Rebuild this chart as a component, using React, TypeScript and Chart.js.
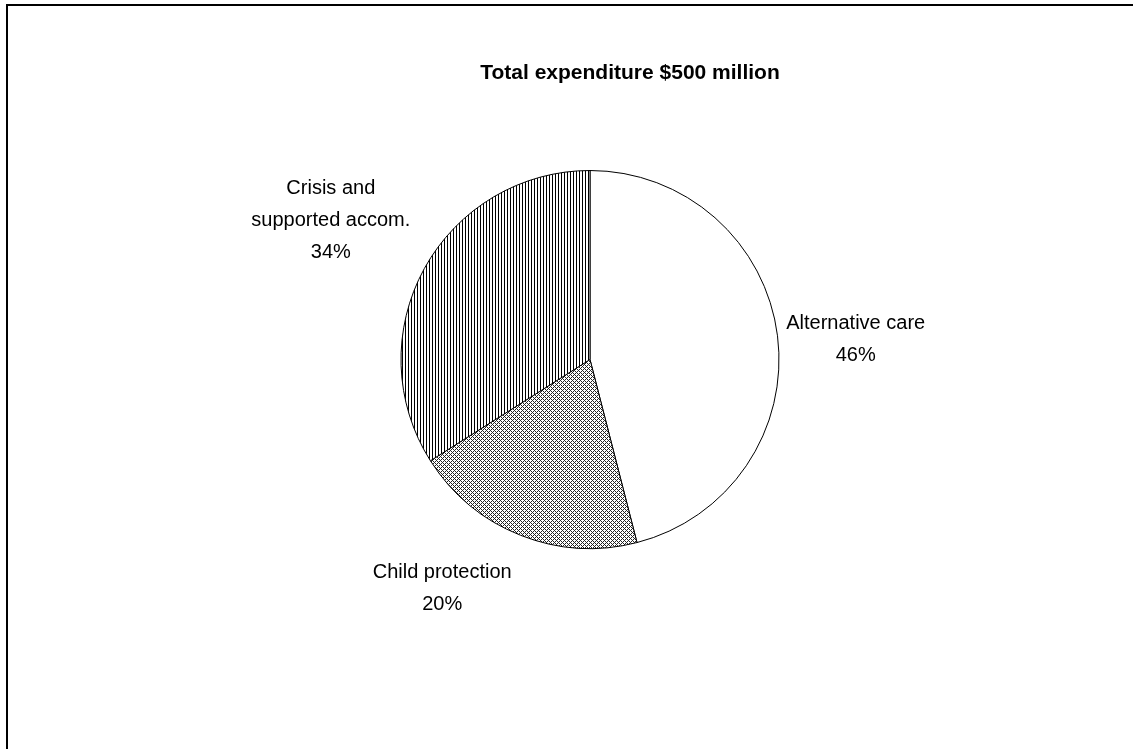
import React, { useEffect, useRef } from 'react';
import { Chart, registerables } from 'chart.js';

Chart.register(...registerables);

const categories = ['Alternative care', 'Child protection', 'Crisis and supported accom.'];
const labelLines = [['Alternative care'], ['Child protection'], ['Crisis and', 'supported accom.']];
const shares = [46, 20, 34];
const titleText = 'Total expenditure $500 million';

function makeStripePattern(): CanvasPattern | string {
  const c = document.createElement('canvas');
  c.width = 3;
  c.height = 1;
  const g = c.getContext('2d');
  if (!g) return '#888';
  g.fillStyle = '#fff';
  g.fillRect(0, 0, 3, 1);
  g.fillStyle = '#000';
  g.fillRect(0, 0, 1, 1);
  return g.createPattern(c, 'repeat') || '#888';
}

function makeDotPattern(): CanvasPattern | string {
  const c = document.createElement('canvas');
  c.width = 4;
  c.height = 4;
  const g = c.getContext('2d');
  if (!g) return '#aaa';
  g.fillStyle = '#fff';
  g.fillRect(0, 0, 4, 4);
  g.fillStyle = '#222';
  const dots = [
    [0, 0], [1, 1], [3, 1], [2, 2], [1, 3], [3, 3],
  ];
  dots.forEach(([x, y]) => g.fillRect(x, y, 1, 1));
  return g.createPattern(c, 'repeat') || '#aaa';
}

const decorPlugin = {
  id: 'decor',
  beforeDraw(chart: any) {
    const ctx = chart.ctx;
    ctx.save();
    ctx.fillStyle = '#fff';
    ctx.fillRect(0, 0, chart.width, chart.height);
    ctx.restore();
  },
  afterDraw(chart: any, _args: any, opts: any) {
    const ctx = chart.ctx;
    ctx.save();
    ctx.strokeStyle = '#000';
    ctx.lineWidth = 2;
    ctx.strokeRect(7, 5, chart.width + 100, chart.height + 100);

    ctx.fillStyle = '#000';
    ctx.textAlign = 'center';
    ctx.textBaseline = 'middle';
    ctx.font = 'bold 21px "Liberation Sans", Arial, sans-serif';
    ctx.fillText(opts.title, opts.titleX, opts.titleY);

    ctx.font = '20px "Liberation Sans", Arial, sans-serif';
    const meta = chart.getDatasetMeta(0);
    meta.data.forEach((arc: any, i: number) => {
      const p = arc.getProps(['x', 'y', 'startAngle', 'endAngle', 'outerRadius'], true);
      const place = opts.placement[i];
      const a = (p.startAngle + p.endAngle) / 2 + (place.shift * Math.PI) / 180;
      const cx = p.x + place.dist * p.outerRadius * Math.cos(a);
      const cy = p.y + place.dist * p.outerRadius * Math.sin(a);
      const lines = [...labelLines[i], shares[i] + '%'];
      const lh = 32;
      lines.forEach((l, k) => {
        ctx.fillText(l, cx, cy + (k - (lines.length - 1) / 2) * lh);
      });
    });
    ctx.restore();
  },
};

export default function App() {
  const ref = useRef<HTMLCanvasElement | null>(null);

  useEffect(() => {
    document.body.style.margin = '0';
    const canvas = ref.current;
    if (!canvas) return;
    const chart = new Chart(canvas, {
      type: 'pie',
      data: {
        labels: categories,
        datasets: [
          {
            data: shares,
            backgroundColor: ['#ffffff', makeDotPattern(), makeStripePattern()] as any,
            borderColor: '#000',
            borderWidth: 1,
            hoverOffset: 0,
          },
        ],
      },
      options: {
        responsive: true,
        maintainAspectRatio: false,
        animation: false,
        layout: { padding: { top: 170, bottom: 200, left: 200, right: 153 } },
        plugins: {
          legend: { display: false },
          tooltip: { enabled: false },
          decor: {
            title: titleText,
            titleX: 630,
            titleY: 73,
            placement: [
              { dist: 1.41, shift: 2.8 },
              { dist: 1.44, shift: 11.3 },
              { dist: 1.556, shift: -0.6 },
            ],
          },
        } as any,
      },
      plugins: [decorPlugin],
    });
    return () => chart.destroy();
  }, []);

  return (
    <div style={{ position: 'relative', width: '1133px', height: '749px' }}>
      <canvas ref={ref} />
    </div>
  );
}
